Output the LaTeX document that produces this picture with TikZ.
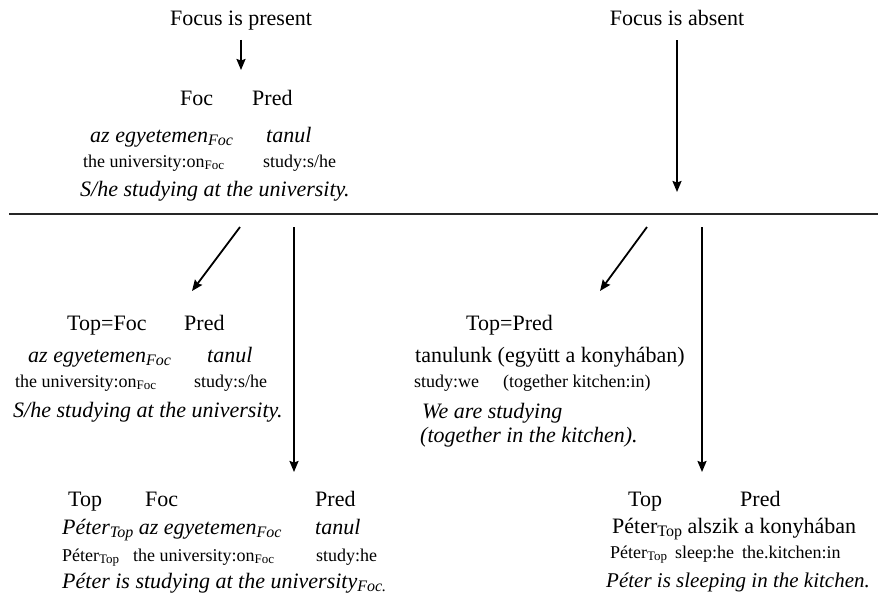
\documentclass[tikz,border=0pt]{standalone}
\usepackage{fontspec}
\setmainfont{Liberation Serif}
\usepackage{tikz}
\usetikzlibrary{arrows.meta, positioning, calc}

\newcommand{\tagsub}[2][13]{\raisebox{-0.35ex}{\fontsize{#1}{#1}\selectfont #2}}

\begin{document}
\begin{tikzpicture}[
  x=1pt, y=-1pt,
  head/.style={anchor=base, inner sep=0pt, font=\fontsize{22}{25}\selectfont},
  word/.style={anchor=base west, inner sep=0pt, font=\fontsize{22}{25}\selectfont},
  hun/.style={word, font=\fontsize{22}{25}\selectfont\itshape},
  gloss/.style={anchor=base west, inner sep=0pt, font=\fontsize{18}{20}\selectfont},
  arrow/.style={-{Stealth[length=11pt, width=9pt, inset=1.5pt]}, line width=1.8pt},
  rule/.style={line width=2.4pt, draw=black!85}
]
  \useasboundingbox (0,0) rectangle (878,598);

  % the two cases
  \node[head] (present) at (241,25) {Focus is present};
  \node[head] (absent) at (677,25) {Focus is absent};

  % focus present, upper block
  \node[word] (foc1) at (180,105) {Foc};
  \node[word] (pred1) at (252,105) {Pred};
  \node[hun] (hu1) at (90,142) {az egyetemen\tagsub[16]{Foc}};
  \node[hun] (verb1) at (266,142) {tanul};
  \node[gloss] (gl1) at (83,167) {the university:on\tagsub{Foc}};
  \node[gloss] (gv1) at (263,167) {study:s/he};
  \node[hun] (tr1) at (80,196) {S/he studying at the university.};

  % dividing line
  \coordinate (divl) at (9,214);
  \coordinate (divr) at (878,214);
  \draw[rule] (divl) -- (divr);

  \coordinate (presend) at (241,70);
  \coordinate (absend) at (677,192);
  \draw[arrow, shorten <=10pt] (present) -- (presend);
  \draw[arrow, shorten <=15pt] (absent) -- (absend);

  % arrows below the line
  \coordinate (ldiag) at (240,227);
  \coordinate (ldiagend) at (192,291);
  \coordinate (lvert) at (294,227);
  \coordinate (lvertend) at (294,472);
  \coordinate (rdiag) at (647,227);
  \coordinate (rdiagend) at (600,291);
  \coordinate (rvert) at (702,227);
  \coordinate (rvertend) at (702,472);
  \draw[arrow] (ldiag) -- (ldiagend);
  \draw[arrow] (lvert) -- (lvertend);
  \draw[arrow] (rdiag) -- (rdiagend);
  \draw[arrow] (rvert) -- (rvertend);

  % Top=Foc
  \node[word] (topfoc2) at (67,330) {Top=Foc};
  \node[word] (pred2) at (184,330) {Pred};
  \node[hun] (hu2) at (28,362) {az egyetemen\tagsub[16]{Foc}};
  \node[hun] (verb2) at (207,362) {tanul};
  \node[gloss] (gl2) at (15,387) {the university:on\tagsub{Foc}};
  \node[gloss] (gv2) at (194,387) {study:s/he};
  \node[hun] (tr2) at (13,417) {S/he studying at the university.};

  % Top=Pred
  \node[word] (toppred3) at (466,330) {Top=Pred};
  \node[word] (hu3) at (415,362) {tanulunk (együtt a konyhában)};
  \node[gloss] (gv3) at (414,387) {study:we};
  \node[gloss] (gl3) at (503,387) {(together kitchen:in)};
  \node[hun] (tr3a) at (422,418) {We are studying};
  \node[hun] (tr3b) at (420,442) {(together in the kitchen).};

  % Top Foc Pred
  \node[word] (top4) at (68,506) {Top};
  \node[word] (foc4) at (145,506) {Foc};
  \node[word] (pred4) at (315,506) {Pred};
  \node[hun] (hu4) at (62,534) {Péter\tagsub[16]{Top} az egyetemen\tagsub[16]{Foc}};
  \node[hun] (verb4) at (315,534) {tanul};
  \node[gloss] (gt4) at (62,561) {Péter\tagsub{Top}};
  \node[gloss] (gl4) at (133,561) {the university:on\tagsub{Foc}};
  \node[gloss] (gv4) at (316,561) {study:he};
  \node[hun] (tr4) at (62,588) {Péter is studying at the university\tagsub[16]{Foc.}};

  % Top Pred
  \node[word] (top5) at (628,506) {Top};
  \node[word] (pred5) at (740,506) {Pred};
  \node[word] (hu5) at (612,533) {Péter\tagsub[16]{Top} alszik a konyhában};
  \node[gloss] (gt5) at (610,558) {Péter\tagsub{Top}};
  \node[gloss] (gv5) at (675,558) {sleep:he};
  \node[gloss] (gl5) at (742,558) {the.kitchen:in};
  \node[hun, font=\fontsize{21}{24}\selectfont\itshape] (tr5) at (606,587) {Péter is sleeping in the kitchen.};
\end{tikzpicture}
\end{document}
